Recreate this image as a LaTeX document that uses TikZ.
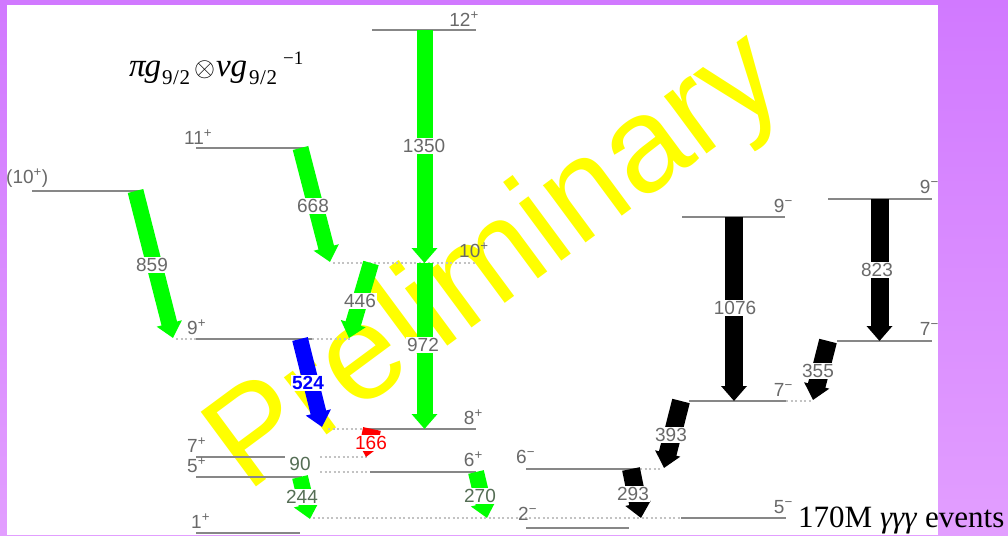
\RequirePackage{fix-cm}
\documentclass[tikz,border=0pt]{standalone}
\usepackage{fontspec}
\setmainfont{Liberation Sans}
\newfontfamily\timesfont{Liberation Serif}
\usetikzlibrary{arrows.meta}

\definecolor{bgtop}{RGB}{209,121,255}
\definecolor{bgbot}{RGB}{226,158,255}
\definecolor{lvl}{RGB}{135,135,135}
\definecolor{lvlext}{RGB}{195,195,195}
\definecolor{lbl}{RGB}{105,105,105}
\definecolor{dgreen}{RGB}{85,110,85}
\definecolor{ggreen}{RGB}{0,255,0}
\definecolor{pyellow}{RGB}{255,255,0}

\newcommand{\subfrac}{\raisebox{-8pt}{\fontsize{21}{21}\selectfont 9\kern0.5pt/\kern0.5pt2}}

\begin{document}
\begin{tikzpicture}[x=1pt,y=-1pt,
  level/.style={draw=lvl, line width=1.6pt},
  ext/.style={draw=lvlext, line width=1.6pt, dash pattern=on 2pt off 2.5pt},
  spin/.style={font=\fontsize{19}{19}\selectfont, text=lbl, inner sep=0pt},
  egam/.style={font=\fontsize{19}{19}\selectfont, text=lbl, fill=white, inner sep=1pt},
  head/.style={-{Triangle[length=15pt,width=25pt]}},
  gtrans/.style={head, draw=ggreen, line width=16pt},
  ktrans/.style={head, draw=black, line width=18pt},
  btrans/.style={head, draw=blue, line width=16pt},
  rtrans/.style={head, draw=red, line width=18pt},
]
% background and white panel
\shade[top color=bgtop, bottom color=bgbot] (0,0) rectangle (1008,535);
\useasboundingbox (0,0) rectangle (1008,535);
\fill[white] (7,5) rectangle (938,535);

% watermark
\node[anchor=base west, rotate=36.5, inner sep=0pt, text=pyellow,
      font=\fontsize{135}{135}\selectfont] (prelim) at (247,494) {Preliminary};

% ---------- positive-parity band ----------
\draw[level] (372,30) coordinate (L12a) -- (476,30) coordinate (L12b);
\node[spin, anchor=south east] (s12) at (479,27) {12\textsuperscript{+}};

\draw[level] (196,148) coordinate (L11a) -- (308,148) coordinate (L11b);
\node[spin, anchor=south west] (s11) at (184,145) {11\textsuperscript{+}};

\draw[level] (32,191) coordinate (L10xa) -- (140,191) coordinate (L10xb);
\node[spin, anchor=south west] (s10x) at (6,188) {(10\textsuperscript{+})};

\draw[ext] (333,263) coordinate (L10a) -- (476,263) coordinate (L10b);
\node[spin, anchor=south west] (s10) at (459,258) {10\textsuperscript{+}};

\draw[ext] (176,339) -- (196,339);
\draw[level] (196,339) coordinate (L9a) -- (312,339) coordinate (L9b);
\draw[ext] (312,339) -- (350,339);
\node[spin, anchor=south west] (s9) at (187,335) {9\textsuperscript{+}};

\draw[ext] (328,429) -- (363,429);
\draw[level] (363,429) coordinate (L8a) -- (476,429) coordinate (L8b);
\node[spin, anchor=south east] (s8) at (483,425) {8\textsuperscript{+}};

\draw[level] (196,457) coordinate (L7a) -- (285,457) coordinate (L7b);
\draw[ext] (320,457) -- (367,457);
\node[spin, anchor=south west] (s7) at (187,453) {7\textsuperscript{+}};

\draw[ext] (320,472) -- (370,472);
\draw[level] (370,472) coordinate (L6a) -- (476,472) coordinate (L6b);
\node[spin, anchor=south east] (s6) at (483,467) {6\textsuperscript{+}};

\draw[level] (196,477) coordinate (L5a) -- (302,477) coordinate (L5b);
\node[spin, anchor=south west] (s5) at (187,473) {5\textsuperscript{+}};

\draw[level] (196,533) coordinate (L1a) -- (300,533) coordinate (L1b);
\node[spin, anchor=south west] (s1) at (191,529) {1\textsuperscript{+}};

% ---------- negative-parity band ----------
\draw[ext] (313,518) -- (681,518);
\draw[level] (681,518) coordinate (M5a) -- (786,518) coordinate (M5b);
\node[spin, anchor=south east] (m5) at (793,514) {5\textsuperscript{−}};

\draw[level] (526,528) coordinate (M2a) -- (629,528) coordinate (M2b);
\node[spin, anchor=south west] (m2) at (518,521) {2\textsuperscript{−}};

\draw[level] (526,469) coordinate (M6a) -- (640,469) coordinate (M6b);
\draw[ext] (640,469) -- (661,469);
\node[spin, anchor=south west] (m6) at (516,464) {6\textsuperscript{−}};

\draw[level] (689,401) coordinate (M7a) -- (786,401) coordinate (M7b);
\draw[ext] (786,401) -- (811,401);
\node[spin, anchor=south east] (m7) at (793,397) {7\textsuperscript{−}};

\draw[level] (837,341) coordinate (R7a) -- (932,341) coordinate (R7b);
\node[spin, anchor=south east] (r7) at (939,336) {7\textsuperscript{−}};

\draw[level] (682,217) coordinate (M9a) -- (785,217) coordinate (M9b);
\node[spin, anchor=south east] (m9) at (793,213) {9\textsuperscript{−}};

\draw[level] (828,199) coordinate (R9a) -- (932,199) coordinate (R9b);
\node[spin, anchor=south east] (r9) at (939,194) {9\textsuperscript{−}};

% ---------- transition end points ----------
\coordinate (a1350) at (424.5,30);  \coordinate (b1350) at (424.5,263);
\coordinate (a972)  at (424.5,263); \coordinate (b972)  at (424.5,429);
\coordinate (a668)  at (300.5,148); \coordinate (b668)  at (330,262);
\coordinate (a859)  at (135.5,191); \coordinate (b859)  at (173,338);
\coordinate (a446)  at (371,263);   \coordinate (b446)  at (349,338);
\coordinate (a524)  at (300,339);   \coordinate (b524)  at (322,427);
\coordinate (a166)  at (372,429);   \coordinate (b166)  at (366,457);
\coordinate (a244)  at (300,477);   \coordinate (b244)  at (310,519);
\coordinate (a270)  at (476,472);   \coordinate (b270)  at (487,518);
\coordinate (a1076) at (734,217);   \coordinate (b1076) at (734,401);
\coordinate (a823)  at (879.5,199); \coordinate (b823)  at (879.5,341);
\coordinate (a355)  at (828,341);   \coordinate (b355)  at (813,400);
\coordinate (a393)  at (681,401);   \coordinate (b393)  at (664,468);
\coordinate (a293)  at (631,469);   \coordinate (b293)  at (641,518);

% ---------- transitions ----------
\draw[gtrans] (a1350) -- (b1350);
\draw[gtrans] (a972) -- (b972);
\draw[gtrans] (a668) -- (b668);
\draw[gtrans] (a859) -- (b859);
\draw[gtrans] (a446) -- (b446);
\draw[btrans] (a524) -- (b524);
\draw[rtrans] (a166) -- (b166);
\draw[gtrans] (a244) -- (b244);
\draw[gtrans] (a270) -- (b270);
\draw[ktrans] (a1076) -- (b1076);
\draw[ktrans] (a823) -- (b823);
\draw[ktrans] (a355) -- (b355);
\draw[ktrans] (a393) -- (b393);
\draw[ktrans] (a293) -- (b293);

% ---------- energy labels ----------
\node[egam] (e1350) at (424,146) {1350};
\node[egam] (e972)  at (423,345) {972};
\node[egam] (e668)  at (313,206) {668};
\node[egam] (e859)  at (152,265) {859};
\node[egam] (e446)  at (360,301) {446};
\node[egam, text=blue, font=\fontsize{19}{19}\selectfont\bfseries] (e524) at (308,383) {524};
\node[egam, text=red] (e166) at (371,443) {166};
\node[egam, text=dgreen] (e90)  at (300,464) {90};
\node[egam, text=dgreen] (e244) at (302,497) {244};
\node[egam, text=dgreen] (e270) at (480,496) {270};
\node[egam] (e1076) at (735,308) {1076};
\node[egam] (e823)  at (877,270) {823};
\node[egam] (e355)  at (818,371) {355};
\node[egam] (e393)  at (671,435) {393};
\node[egam] (e293)  at (633,494) {293};

% ---------- configuration and statistics ----------
\node[anchor=base west, inner sep=0pt, font=\timesfont\fontsize{33}{35}\selectfont] (config) at (129,77)
  {\textit{π\kern-1ptg}\kern1pt\subfrac\kern4pt{\fontsize{27}{27}\selectfont$\otimes$}\kern1pt\textit{νg}\kern2pt\subfrac\kern6pt\raisebox{13pt}{\fontsize{19}{19}\selectfont −1}};

\node[anchor=base west, inner sep=0pt, font=\timesfont\fontsize{31}{31}\selectfont] (events) at (798,527)
  {170M \textit{γγγ} events};
\end{tikzpicture}
\end{document}
